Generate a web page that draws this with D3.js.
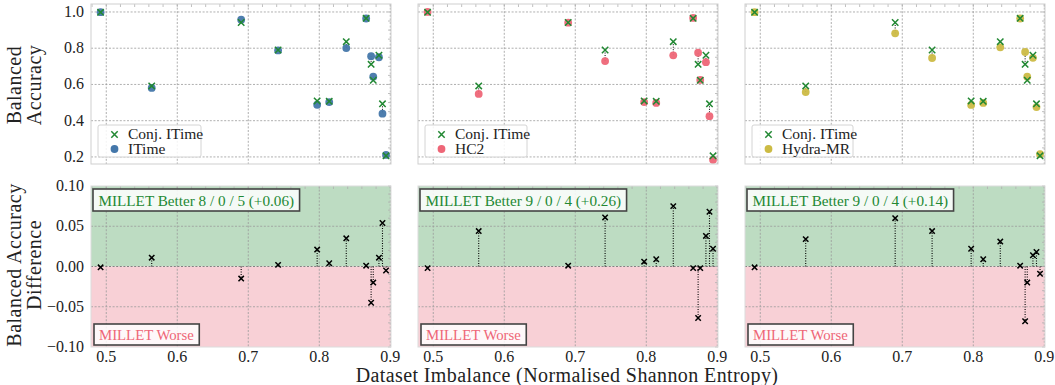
<!DOCTYPE html>
<html>
<head>
<meta charset="utf-8">
<style>
  body { margin: 0; background: #fff; }
  svg { display: block; font-family: "Liberation Serif", "DejaVu Serif", serif; }
</style>
<script src="https://d3js.org/d3.v7.min.js"></script>
</head>
<body>
<svg id="chart" width="1055" height="385"></svg>
<script>
// normalised Shannon entropy of each dataset
var entropy  = [0.492, 0.564, 0.690, 0.742, 0.797, 0.814, 0.838, 0.866, 0.873, 0.876, 0.884, 0.889, 0.894];
// balanced accuracy
var conjITime = [0.998, 0.592, 0.942, 0.790, 0.509, 0.507, 0.836, 0.965, 0.711, 0.623, 0.761, 0.493, 0.206];
var iTime     = [0.999, 0.581, 0.957, 0.788, 0.488, 0.503, 0.801, 0.964, 0.756, 0.643, 0.750, 0.439, 0.211];
var hc2       = [1.000, 0.548, 0.941, 0.729, 0.503, 0.498, 0.761, 0.967, 0.775, 0.625, 0.723, 0.425, 0.184];
var hydraMR   = [0.999, 0.558, 0.882, 0.746, 0.487, 0.498, 0.805, 0.964, 0.779, 0.643, 0.747, 0.475, 0.215];

var baselineNames = ["ITime", "HC2", "Hydra-MR"];
var baselineColors = ["#4477AA", "#EE6677", "#CCBB44"];
var betterLabels = ["MILLET Better 8 / 0 / 5 (+0.06)", "MILLET Better 9 / 0 / 4 (+0.26)", "MILLET Better 9 / 0 / 4 (+0.14)"];

var xTicks = [0.5, 0.6, 0.7, 0.8, 0.9];
var accTicks = [0.2, 0.4, 0.6, 0.8, 1.0];
var diffTicks = [-0.10, -0.05, 0.00, 0.05, 0.10];

var baselines = [iTime, hc2, hydraMR];
var green = "#228833";

var svg = d3.select("#chart");
var panelLeft = [91, 418, 745];
var panelW = 300;
var top1 = 4, top1H = 160;
var top2 = 186, top2H = 161;

var x = d3.scaleLinear().domain([0.4785, 0.901]).range([0, panelW]);
var yAcc = d3.scaleLinear().domain([0.161, 1.044]).range([top1H, 0]);
var yDiff = d3.scaleLinear().domain([-0.1, 0.1]).range([top2H, 0]);

function cross(g, cx, cy, s, color, w) {
  g.append("path")
    .attr("d", "M" + (cx - s) + "," + (cy - s) + "L" + (cx + s) + "," + (cy + s) +
               "M" + (cx - s) + "," + (cy + s) + "L" + (cx + s) + "," + (cy - s))
    .attr("stroke", color).attr("stroke-width", w).attr("fill", "none");
}

function frame(g, h, yScale, yMinor) {
  // vertical grid
  g.selectAll(".gx").data(xTicks).enter().append("line")
    .attr("x1", function(d) { return x(d); }).attr("x2", function(d) { return x(d); })
    .attr("y1", 0).attr("y2", h)
    .attr("stroke", "#9a9a9a").attr("stroke-width", 0.8).attr("stroke-dasharray", "2,1.6");
  // minor ticks on top and right
  var xm = d3.range(0.48, 0.9001, 0.02);
  g.selectAll(".mx").data(xm).enter().append("line")
    .attr("x1", function(d) { return x(d); }).attr("x2", function(d) { return x(d); })
    .attr("y1", 0).attr("y2", 3)
    .attr("stroke", "#b0b0b0").attr("stroke-width", 0.8);
  g.selectAll(".my").data(yMinor).enter().append("line")
    .attr("x1", panelW - 3).attr("x2", panelW)
    .attr("y1", function(d) { return yScale(d); }).attr("y2", function(d) { return yScale(d); })
    .attr("stroke", "#b0b0b0").attr("stroke-width", 0.8);
}

function hgrid(g, ticks, yScale) {
  g.selectAll(".hg").data(ticks).enter().append("line")
    .attr("x1", 0).attr("x2", panelW)
    .attr("y1", function(d) { return yScale(d); }).attr("y2", function(d) { return yScale(d); })
    .attr("stroke", "#9a9a9a").attr("stroke-width", 0.8).attr("stroke-dasharray", "2,1.6");
}

baselines.forEach(function(base, p) {
  var col = baselineColors[p];

  // ---------- top: balanced accuracy ----------
  var g = svg.append("g").attr("transform", "translate(" + panelLeft[p] + "," + top1 + ")");
  hgrid(g, accTicks, yAcc);
  frame(g, top1H, yAcc, d3.range(0.2, 1.0001, 0.05));

  entropy.forEach(function(e, i) {
    g.append("line")
      .attr("x1", x(e)).attr("x2", x(e))
      .attr("y1", yAcc(conjITime[i])).attr("y2", yAcc(base[i]))
      .attr("stroke", "#000").attr("stroke-width", 1).attr("stroke-dasharray", "1,1.5");
  });
  entropy.forEach(function(e, i) {
    g.append("circle").attr("cx", x(e)).attr("cy", yAcc(base[i])).attr("r", 3.9)
      .attr("fill", col).attr("opacity", 0.95);
  });
  entropy.forEach(function(e, i) {
    cross(g, x(e), yAcc(conjITime[i]), 3.2, green, 1.5);
  });

  g.append("rect").attr("x", 0).attr("y", 0).attr("width", panelW).attr("height", top1H)
    .attr("fill", "none").attr("stroke", "#cfcfcf").attr("stroke-width", 1);

  // legend
  var lg = g.append("g").attr("transform", "translate(7,121)");
  var lw = p === 0 ? 103 : (p === 1 ? 102 : 101);
  lg.append("rect").attr("x", 0).attr("y", 0).attr("width", lw).attr("height", 32).attr("rx", 2)
    .attr("fill", "#fff").attr("fill-opacity", 0.85).attr("stroke", "#d4d4d4").attr("stroke-width", 1);
  cross(lg, 16.5, 9.5, 3.2, green, 1.5);
  lg.append("circle").attr("cx", 16.5).attr("cy", 24).attr("r", 3.9).attr("fill", col);
  lg.append("text").attr("x", 30).attr("y", 14).attr("font-size", 15.5).attr("fill", "#222").text("Conj. ITime");
  lg.append("text").attr("x", 30).attr("y", 29).attr("font-size", 15.5).attr("fill", "#222").text(baselineNames[p]);

  if (p === 0) {
    g.selectAll(".yl").data(accTicks).enter().append("text")
      .attr("x", -7).attr("y", function(d) { return yAcc(d) + 5; })
      .attr("text-anchor", "end").attr("font-size", 16).attr("fill", "#222")
      .text(function(d) { return d.toFixed(1); });
  }

  // ---------- bottom: difference ----------
  var b = svg.append("g").attr("transform", "translate(" + panelLeft[p] + "," + top2 + ")");
  b.append("rect").attr("x", 0).attr("y", 0).attr("width", panelW).attr("height", yDiff(0))
    .attr("fill", "#bddcc2");
  b.append("rect").attr("x", 0).attr("y", yDiff(0)).attr("width", panelW).attr("height", top2H - yDiff(0))
    .attr("fill", "#f8d0d6");
  hgrid(b, [-0.05, 0.05], yDiff);
  frame(b, top2H, yDiff, d3.range(-0.1, 0.1001, 0.01));
  b.append("line").attr("x1", 0).attr("x2", panelW).attr("y1", yDiff(0)).attr("y2", yDiff(0))
    .attr("stroke", "#777").attr("stroke-width", 0.9).attr("stroke-dasharray", "2,1.6");

  entropy.forEach(function(e, i) {
    var d = conjITime[i] - base[i];
    b.append("line")
      .attr("x1", x(e)).attr("x2", x(e))
      .attr("y1", yDiff(0)).attr("y2", yDiff(d))
      .attr("stroke", "#000").attr("stroke-width", 1.1).attr("stroke-dasharray", "1,1.5");
  });
  entropy.forEach(function(e, i) {
    var d = conjITime[i] - base[i];
    cross(b, x(e), yDiff(d), 2.7, "#000", 1.5);
  });

  b.append("rect").attr("x", 0).attr("y", 0).attr("width", panelW).attr("height", top2H)
    .attr("fill", "none").attr("stroke", "#dcdcdc").attr("stroke-width", 1);

  // annotation boxes
  var bt = b.append("text").attr("x", 7.5).attr("y", 19.5).attr("font-size", 15.2).attr("fill", green)
    .text(betterLabels[p]);
  var bb = bt.node().getBBox();
  b.insert("rect", "text").attr("x", 2).attr("y", 3).attr("width", bb.width + 11).attr("height", 22)
    .attr("fill", "#fff").attr("fill-opacity", 0.85).attr("stroke", "#444").attr("stroke-width", 1.6);

  var wt = b.append("text").attr("x", 8).attr("y", 154).attr("font-size", 14.8).attr("fill", "#EE6677")
    .text("MILLET Worse");
  var wb = wt.node().getBBox();
  b.insert("rect", "text").attr("x", 3).attr("y", 138).attr("width", wb.width + 10).attr("height", 21)
    .attr("fill", "#fff").attr("fill-opacity", 0.85).attr("stroke", "#444").attr("stroke-width", 1.6);

  b.selectAll(".xl").data(xTicks).enter().append("text")
    .attr("x", function(d) { return x(d); }).attr("y", top2H + 15)
    .attr("text-anchor", "middle").attr("font-size", 16).attr("fill", "#222")
    .text(function(d) { return d.toFixed(1); });

  if (p === 0) {
    b.selectAll(".yl").data(diffTicks).enter().append("text")
      .attr("x", -7).attr("y", function(d) { return yDiff(d) + 5; })
      .attr("text-anchor", "end").attr("font-size", 16).attr("fill", "#222")
      .text(function(d) { return d < 0 ? "\u2212" + Math.abs(d).toFixed(2) : d.toFixed(2); });
  }
});

// axis titles
svg.append("text").attr("x", 567).attr("y", 382).attr("text-anchor", "middle")
  .attr("font-size", 20).attr("letter-spacing", 0.4).attr("fill", "#222")
  .text("Dataset Imbalance (Normalised Shannon Entropy)");

var yl1 = svg.append("text").attr("transform", "translate(0,85) rotate(-90)")
  .attr("text-anchor", "middle").attr("font-size", 20).attr("letter-spacing", 0.5).attr("fill", "#222");
yl1.append("tspan").attr("x", 0).attr("y", 21).text("Balanced");
yl1.append("tspan").attr("x", 0).attr("y", 41).text("Accuracy");

var yl2 = svg.append("text").attr("transform", "translate(0,265) rotate(-90)")
  .attr("text-anchor", "middle").attr("font-size", 20).attr("letter-spacing", 0.5).attr("fill", "#222");
yl2.append("tspan").attr("x", 0).attr("y", 21).text("Balanced Accuracy");
yl2.append("tspan").attr("x", 0).attr("y", 41).text("Difference");
</script>
</body>
</html>
